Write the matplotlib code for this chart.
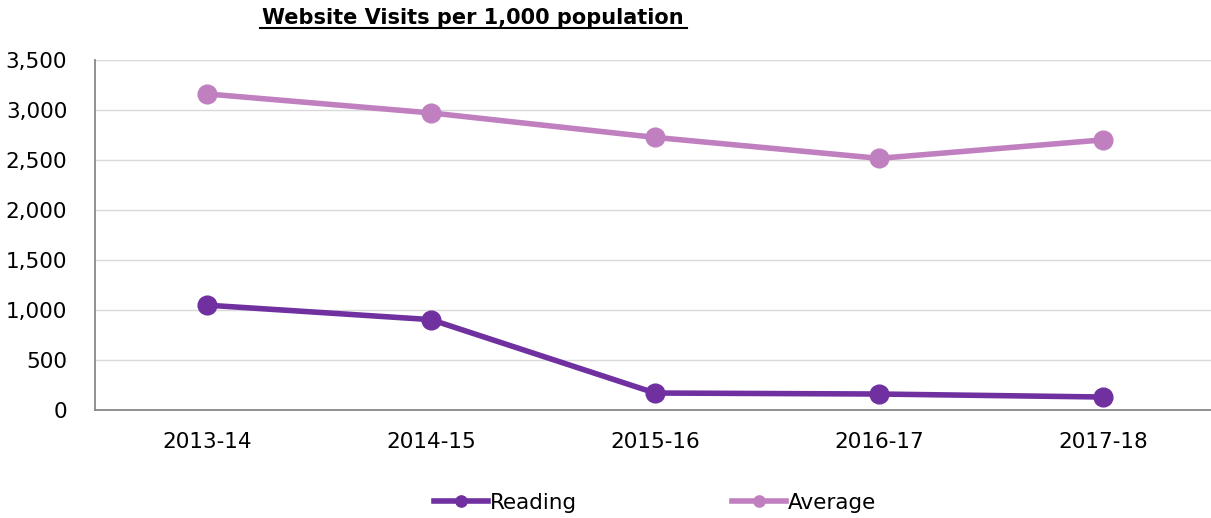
import matplotlib.pyplot as plt
from matplotlib.ticker import FuncFormatter

# Data
years = ['2013-14', '2014-15', '2015-16', '2016-17', '2017-18']
reading = [1045, 900, 165, 155, 125]
average = [3160, 2970, 2725, 2515, 2700]

plt.rcParams['font.family'] = ['DejaVu Sans']

fig = plt.figure(figsize=(12.11, 5.18), dpi=100)
ax = fig.add_axes([95 / 1211, 1 - 409.5 / 518, 1120 / 1211, 349.5 / 518])

x = range(len(years))
ax.plot(x, reading, color='#7030A0', lw=4, marker='o', ms=13.5, label='Reading')
ax.plot(x, average, color='#C080C0', lw=4, marker='o', ms=13.5, label='Average')

ax.set_xlim(-0.5, len(years) - 0.5)
ax.set_ylim(0, 3500)
ax.set_yticks(range(0, 3501, 500))
ax.yaxis.set_major_formatter(FuncFormatter(lambda v, p: f'{int(v):,}'))
ax.set_xticks(list(x))
ax.set_xticklabels(years)
ax.tick_params(axis='both', length=0, labelsize=15.5, colors='black')
ax.tick_params(axis='x', pad=16.5)
ax.tick_params(axis='y', pad=20)

ax.grid(axis='y', color='#d9d9d9', lw=1)
ax.set_axisbelow(True)
for s in ['top', 'right']:
    ax.spines[s].set_visible(False)
for s in ['left', 'bottom']:
    ax.spines[s].set_color('#888888')
    ax.spines[s].set_linewidth(1.3)

fig.text(473 / 1211, 1 - 18 / 518, 'Website Visits per 1,000 population',
         ha='center', va='center', fontsize=15, fontweight='bold')
# underline under the title
fig.add_artist(plt.Line2D([260 / 1211, 687 / 1211], [1 - 28 / 518, 1 - 28 / 518],
                          color='black', lw=1.5))

fig.legend(loc='center', bbox_to_anchor=(0.541, 1 - 503 / 518), ncol=2,
           frameon=False, fontsize=15.5, handlelength=2.5, columnspacing=7.2,
           handletextpad=0.1, markerscale=0.6)

fig.savefig('out.png', dpi=100)
